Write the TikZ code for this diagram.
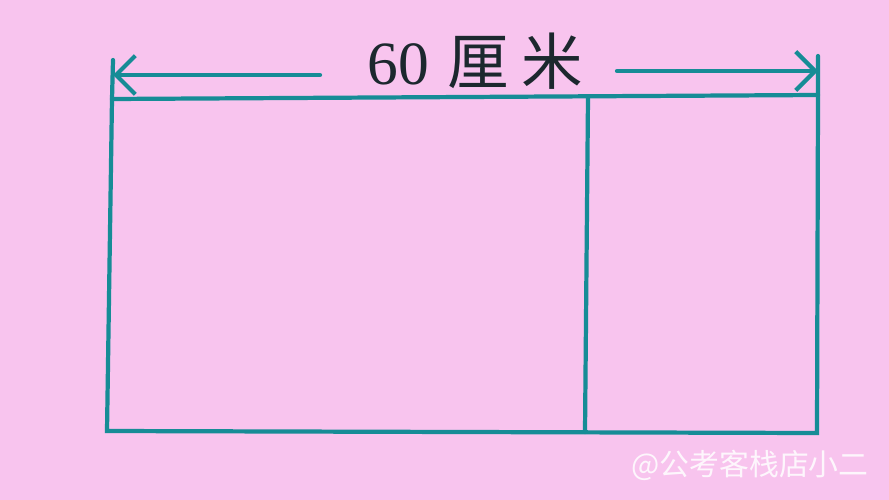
\documentclass[tikz,border=0pt]{standalone}
\usepackage{fontspec}
\setmainfont{Liberation Serif}
\newfontfamily\cjk{Noto Sans CJK SC}
\usetikzlibrary{arrows.meta}
\definecolor{pinkbg}{RGB}{248,196,238}
\definecolor{lineteal}{RGB}{22,140,150}
\definecolor{ink}{RGB}{28,40,46}
\begin{document}
\begin{tikzpicture}[x=0.02cm,y=-0.02cm,
    edge/.style={line width=2.4pt, lineteal, line cap=round},
    dimarrow/.style={edge, -{Straight Barb[length=11pt,width=22pt,line width=2.4pt]}},
    lbl/.style={ink, font=\fontsize{35}{38}\selectfont},
    wmark/.style={white, opacity=0.85, font=\cjk\fontsize{17}{20}\selectfont}]
     \fill[pinkbg] (0,0) rectangle (889,500);

     % rectangle corners
     \coordinate (tl) at (112,99);
     \coordinate (tr) at (818,95);
     \coordinate (bl) at (107,431);
     \coordinate (br) at (817,433);
     \coordinate (mt) at (588,97);
     \coordinate (mb) at (585,432);
     \coordinate (lt) at (113,60);
     \coordinate (rt) at (818,56);

     \draw[edge] (lt)--(tl)--(bl)--(br)--(tr)--(rt);
     \draw[edge] (tl)--(tr);
     \draw[edge] (mt)--(mb);

     \node[lbl] (len) at (475,61) {60\hspace{0.3em}{\cjk 厘\hspace{0.2em}米}};
     \coordinate (la) at (320,75);
     \coordinate (ra) at (617,71);
     \draw[dimarrow] (la)--(lt|-la);
     \draw[dimarrow] (ra)--(rt|-ra);

     \node[wmark] (wm) at (750,465) {@公考客栈店小二};
\end{tikzpicture}
\end{document}
